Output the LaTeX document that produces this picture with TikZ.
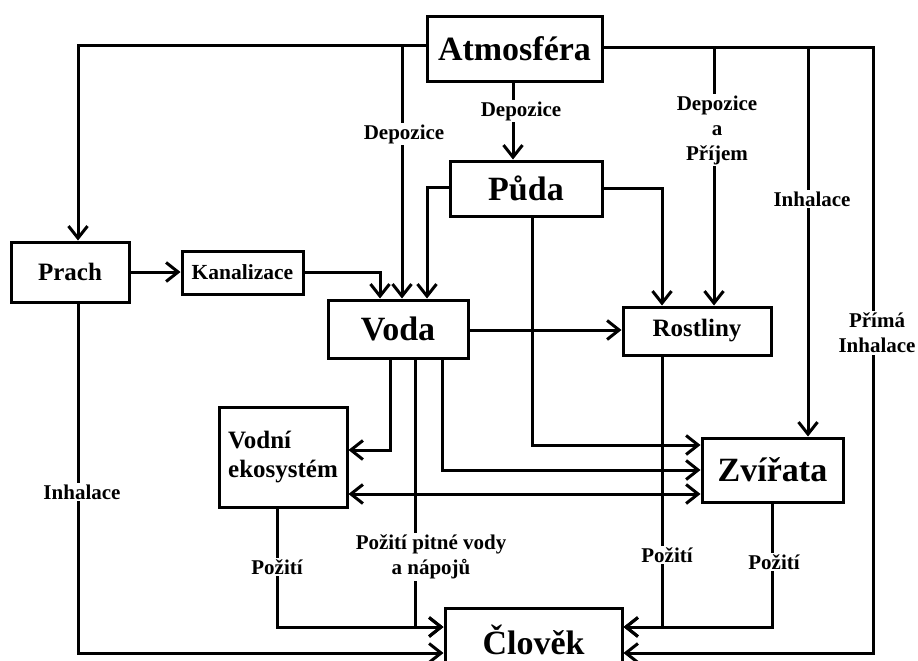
\documentclass[tikz,border=0pt]{standalone}
\usepackage{fontspec}
\setmainfont{Liberation Serif}
\usetikzlibrary{arrows.meta}
\tikzset{
  lw/.style={line width=3pt},
  box/.style={draw, lw, fill=white, inner sep=0pt, align=center},
  bigf/.style={font=\fontsize{34}{36}\selectfont\bfseries},
  midf/.style={font=\fontsize{25}{29}\selectfont\bfseries},
  smallf/.style={font=\fontsize{21.5}{24}\selectfont\bfseries},
  lbl/.style={fill=white, inner sep=1.5pt, align=center, font=\fontsize{21}{25}\selectfont\bfseries},
  arr/.style={lw, -{Straight Barb[length=12pt,width=19pt]}},
  arrtwo/.style={lw, {Straight Barb[length=12pt,width=19pt]}-{Straight Barb[length=12pt,width=19pt]}},
}
\begin{document}
\begin{tikzpicture}[x=1pt,y=-1pt]
\useasboundingbox (0,0) rectangle (918,661);
\clip (0,0) rectangle (918,661);
% boxes
\node[box, bigf, minimum width=175, minimum height=64] (atm) at (514.5,49) {Atmosféra};
\node[box, bigf, minimum width=152, minimum height=55] (puda) at (526,188.5) {Půda};
\node[box, bigf, minimum width=140, minimum height=58] (voda) at (398,329) {Voda};
\node[box, smallf, minimum width=121, minimum height=43] (kan) at (242.5,272.5) {Kanalizace};
\node[box, midf, minimum width=118, minimum height=60] (prach) at (70,272) {Prach};
\node[box, midf, minimum width=148, minimum height=48] (rost) at (697,331) {Rostliny};
\node[box, midf, minimum width=128, minimum height=100, align=left] (vek) at (283,457) {Vodní\\ekosystém};
\node[box, bigf, minimum width=141, minimum height=64] (zvi) at (772.5,470) {Zvířata};
\node[box, bigf, minimum width=177, minimum height=64] (clo) at (533.5,640) {Člověk};
% junctions
\coordinate (jL) at (402,46);
\coordinate (jR) at (873,48);
\coordinate (jDP) at (714,48);
\coordinate (jIn) at (808,48);
% connectors
\draw[arr] (atm.west |- 0,46) -| (prach.north -| 78,0);
\draw[arr] (jL) -- (voda.north -| jL);
\draw[arr] (atm.south -| 513,0) -- (puda.north -| 513,0);
\draw[arr] (atm.east |- jR) -- (jR) -- (jR |- 0,653) -- (clo.east |- 0,653);
\draw[arr] (jDP) -- (rost.north -| jDP);
\draw[arr] (jIn) -- (zvi.north -| jIn);
\draw[arr] (puda.west |- 0,187) -| (voda.north -| 427,0);
\draw[arr] (puda.east |- 0,188) -| (rost.north -| 662,0);
\draw[arr] (puda.south -| 532,0) |- (zvi.west |- 0,445);
\draw[arr] (kan.east |- 0,272) -| (voda.north -| 380,0);
\draw[arr] (prach.east |- 0,272) -- (kan.west |- 0,272);
\draw[arr] (prach.south -| 78,0) |- (clo.west |- 0,653);
\draw[arr] (voda.east |- 0,330) -- (rost.west |- 0,330);
\draw[arr] (voda.south -| 390,0) |- (vek.east |- 0,450);
\draw[arr] (voda.south -| 415,0) |- (clo.west |- 0,627);
\draw[arr] (voda.south -| 442,0) |- (zvi.west |- 0,470);
\draw[arrtwo] (vek.east |- 0,494) -- (zvi.west |- 0,494);
\draw[arr] (vek.south -| 277,0) |- (clo.west |- 0,627);
\draw[arr] (rost.south -| 662,0) |- (clo.east |- 0,627);
\draw[arr] (zvi.south -| 772,0) |- (clo.east |- 0,627);
% labels
\node[lbl] (l1) at (404,134) {Depozice};
\node[lbl] (l2) at (521,111) {Depozice};
\node[lbl] (l3) at (717,130) {Depozice\\a\\Příjem};
\node[lbl] (l4) at (812,199) {Inhalace};
\node[lbl] (l5) at (877,333) {Přímá\\Inhalace};
\node[lbl] (l6) at (82,492) {Inhalace};
\node[lbl] (l7) at (277,567) {Požití};
\node[lbl] (l8) at (431,557) {Požití pitné vody\\a nápojů};
\node[lbl] (l9) at (667,555) {Požití};
\node[lbl] (l10) at (774,562) {Požití};
\end{tikzpicture}
\end{document}
